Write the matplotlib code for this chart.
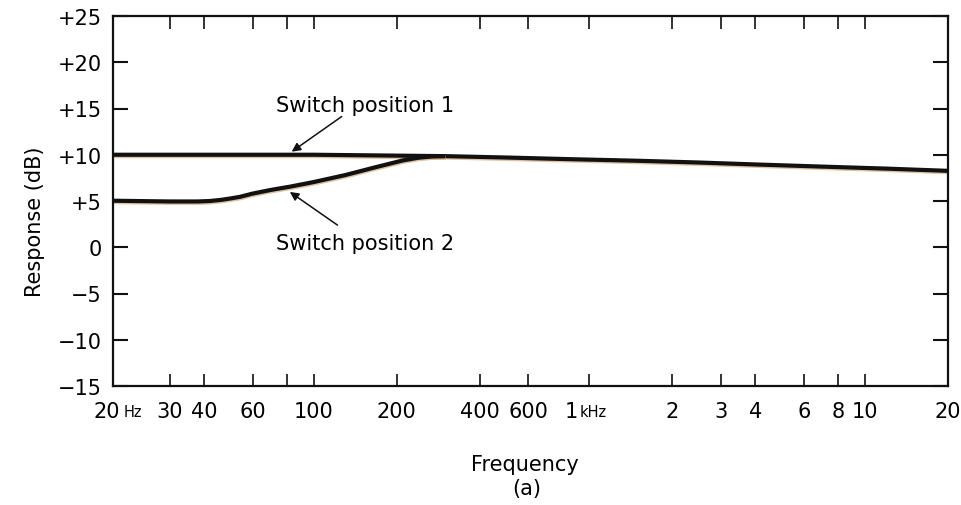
import matplotlib
matplotlib.use("Agg")
import matplotlib.pyplot as plt
import matplotlib.patheffects as pe
from matplotlib.ticker import FixedLocator, NullFormatter, FixedFormatter

plt.rcParams['font.family'] = ['DejaVu Sans']

# ---- data ----
freq_pos1 = [18.7, 100, 300, 500, 830, 1500, 2500, 4000, 6800, 12000, 20000]
resp_pos1 = [10.0, 10.0, 9.85, 9.7, 9.53, 9.35, 9.16, 8.95, 8.73, 8.5, 8.26]

freq_pos2 = [18.7, 30, 38, 42, 46, 50, 54, 60, 70, 82, 100, 130, 165, 210, 240, 270, 300]
resp_pos2 = [5.03, 4.95, 4.95, 5.0, 5.12, 5.28, 5.45, 5.8, 6.2, 6.55, 7.05, 7.8, 8.6, 9.38, 9.68, 9.82, 9.85]

tick_marks = [30, 40, 60, 80, 100, 200, 400, 600, 1000, 2000, 3000, 4000, 6000, 8000, 10000]
label_pos = [20, 30, 40, 60, 100, 200, 400, 600, 1000, 2000, 3000, 4000, 6000, 8000, 10000, 20000]
label_txt = ['', '30', '40', '60', '100', '200', '400', '600', '', '2', '3', '4', '6', '8', '10', '20']

y_ticks = [-15, -10, -5, 0, 5, 10, 15, 20, 25]
y_labels = ['\u221215', '\u221210', '\u22125', '0', '+5', '+10', '+15', '+20', '+25']

# ---- figure ----
fig = plt.figure(figsize=(9.62, 5.06), dpi=100)
ax = fig.add_axes([113/962, 1-387/506, (948-113)/962, (387-17)/506])
ax.set_xscale('log')
ax.set_xlim(18.7, 20000)
ax.set_ylim(-15, 25)

shadow = [pe.SimpleLineShadow(offset=(0.5, -1.0), shadow_color='#c99a62', alpha=0.6), pe.Normal()]
ax.plot(freq_pos1, resp_pos1, color='#111111', lw=3.0, solid_capstyle='butt',
        solid_joinstyle='round', path_effects=shadow)
ax.plot(freq_pos2, resp_pos2, color='#111111', lw=3.0, solid_capstyle='butt',
        solid_joinstyle='round', path_effects=shadow)

for s in ax.spines.values():
    s.set_linewidth(1.6)
    s.set_color('#111111')

# x ticks: labels as major (no marks), marks as minor
ax.xaxis.remove_overlapping_locs = False
ax.xaxis.set_major_locator(FixedLocator(label_pos))
ax.xaxis.set_major_formatter(FixedFormatter(label_txt))
ax.xaxis.set_minor_locator(FixedLocator(tick_marks))
ax.xaxis.set_minor_formatter(NullFormatter())
ax.tick_params(axis='x', which='major', length=0, pad=11, labelsize=15)
ax.tick_params(axis='x', which='minor', direction='in', length=9, width=1.2,
               top=True, bottom=True, color='#111111')

ax.set_yticks(y_ticks)
ax.set_yticklabels(y_labels)
ax.tick_params(axis='y', which='major', direction='in', length=11, width=1.5,
               left=True, right=True, pad=8, labelsize=15, color='#111111')

# mixed-size special labels
xt = ax.get_xaxis_transform()
ax.annotate('20', xy=(20, 0), xycoords=xt, xytext=(-0.5, -11), textcoords='offset points',
            ha='right', va='top', fontsize=15)
ax.annotate('Hz', xy=(20, 0), xycoords=xt, xytext=(1.5, -13.2), textcoords='offset points',
            ha='left', va='top', fontsize=10.5)
ax.annotate('1', xy=(1000, 0), xycoords=xt, xytext=(-8.3, -11), textcoords='offset points',
            ha='right', va='top', fontsize=15)
ax.annotate('kHz', xy=(1000, 0), xycoords=xt, xytext=(-7.0, -13.2), textcoords='offset points',
            ha='left', va='top', fontsize=10.5)

# annotations
arrow = dict(arrowstyle='-|>', color='#111111', lw=1.1, mutation_scale=13, shrinkA=0, shrinkB=0)
ax.annotate('', xy=(83.2, 10.33), xytext=(126.3, 14.13), arrowprops=arrow)
ax.text(154, 15.43, 'Switch position 1', ha='center', va='center', fontsize=15)
ax.annotate('', xy=(81.9, 5.98), xytext=(122, 2.39), arrowprops=arrow)
ax.text(153, 0.43, 'Switch position 2', ha='center', va='center', fontsize=15)

fig.text(35/962, 1-222/506, 'Response (dB)', rotation=90, ha='center', va='center', fontsize=15)
fig.text(525/962, 1-465/506, 'Frequency', ha='center', va='center', fontsize=15)
fig.text(527/962, 1-489/506, '(a)', ha='center', va='center', fontsize=15)

fig.savefig('out.png', dpi=100)
